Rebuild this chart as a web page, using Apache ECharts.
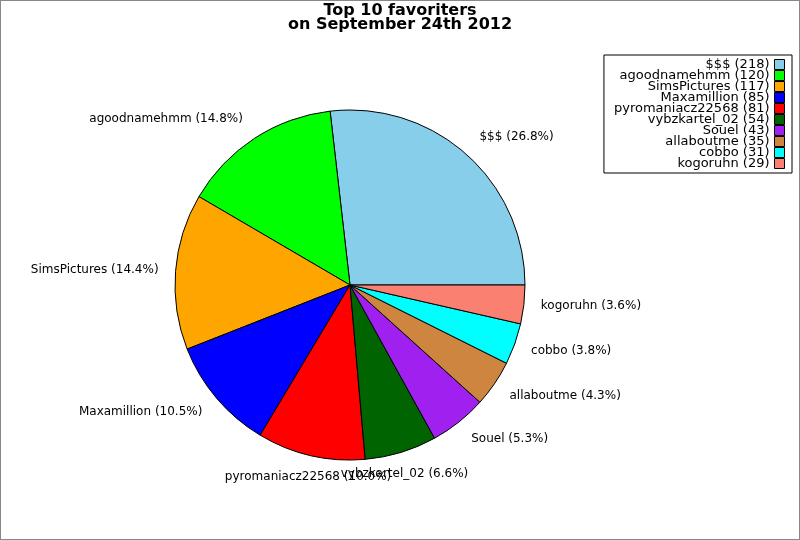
<!DOCTYPE html>
<html>
<head>
<meta charset="utf-8">
<script src="https://cdn.jsdelivr.net/npm/echarts@6/dist/echarts.min.js"></script>
<style>
html,body{margin:0;padding:0;background:#fff;}
#c{width:800px;height:540px;position:relative;}
#frame{position:absolute;left:0;top:0;width:800px;height:540px;box-sizing:border-box;border:1px solid #888;pointer-events:none;}
</style>
</head>
<body>
<div id="c"></div>
<div id="frame"></div>
<script>
const names = ['$$$','agoodnamehmm','SimsPictures','Maxamillion','pyromaniacz22568','vybzkartel_02','Souel','allaboutme','cobbo','kogoruhn'];
const counts = [218,120,117,85,81,54,43,35,31,29];
const colors = ['#87CEEB','#00FF00','#FFA500','#0000FF','#FF0000','#006400','#A020F0','#CD853F','#00FFFF','#FA8072'];
const titleLines = ['Top 10 favoriters','on September 24th 2012'];

const total = counts.reduce((a,b)=>a+b,0);
const centeredLabels = ['pyromaniacz22568','vybzkartel_02'];
// sine of the mid-angle (counter-clockwise from 3 o'clock) of each slice
const midSin = [];
(function(){
  let acc = 0;
  counts.forEach(v=>{
    const mid = (acc + v/2)/total*2*Math.PI;
    midSin.push(Math.sin(mid));
    acc += v;
  });
})();

const data = names.map((n,i)=>({name:n, value:counts[i], itemStyle:{color:colors[i]}}));

const chart = echarts.init(document.getElementById('c'), null, {renderer:'canvas'});
chart.setOption({
  animation:false,
  backgroundColor:'#fff',
  title:{
    text:titleLines.join('\n'),
    left:'center', top:-1,
    textStyle:{fontFamily:'DejaVu Sans',fontWeight:'bold',fontSize:16,lineHeight:14,color:'#000'}
  },
  legend:{
    orient:'vertical', right:8, top:55, align:'right',
    backgroundColor:'#fff', borderColor:'#000', borderWidth:1,
    padding:[3,7,3,10],
    itemWidth:10, itemHeight:10, itemGap:-2,
    icon:'rect',
    itemStyle:{borderColor:'#000',borderWidth:1},
    textStyle:{fontFamily:'DejaVu Sans',fontSize:13,lineHeight:11,color:'#000'},
    formatter:function(n){ return n + ' (' + counts[names.indexOf(n)] + ')'; },
    data:names
  },
  series:[{
    type:'pie',
    center:[350,285],
    radius:175,
    startAngle:0,
    clockwise:false,
    avoidLabelOverlap:false,
    silent:true,
    itemStyle:{borderColor:'#000',borderWidth:1},
    label:{
      show:true, position:'outside',
      fontFamily:'DejaVu Sans', fontSize:12, color:'#000',
      formatter:function(p){ return p.name + ' (' + (p.value/total*100).toFixed(1) + '%)'; }
    },
    labelLine:{show:false,length:12,length2:0},
    labelLayout:function(p){
      const i = p.dataIndex;
      const r = p.labelRect;
      const s = midSin[i];
      const shift = s > 0 ? -11*s : Math.max(0, 11*(-s) - 1);
      const out = {y: r.y + r.height/2 + shift};
      if (centeredLabels.indexOf(names[i]) >= 0) {
        let x;
        if (p.labelLinePoints && p.labelLinePoints[2]) x = p.labelLinePoints[2][0];
        else x = (p.align === 'right') ? r.x + r.width : r.x;
        out.x = x;
        out.align = 'center';
      }
      return out;
    },
    emphasis:{disabled:true},
    data:data
  }]
});
</script>
</body>
</html>
